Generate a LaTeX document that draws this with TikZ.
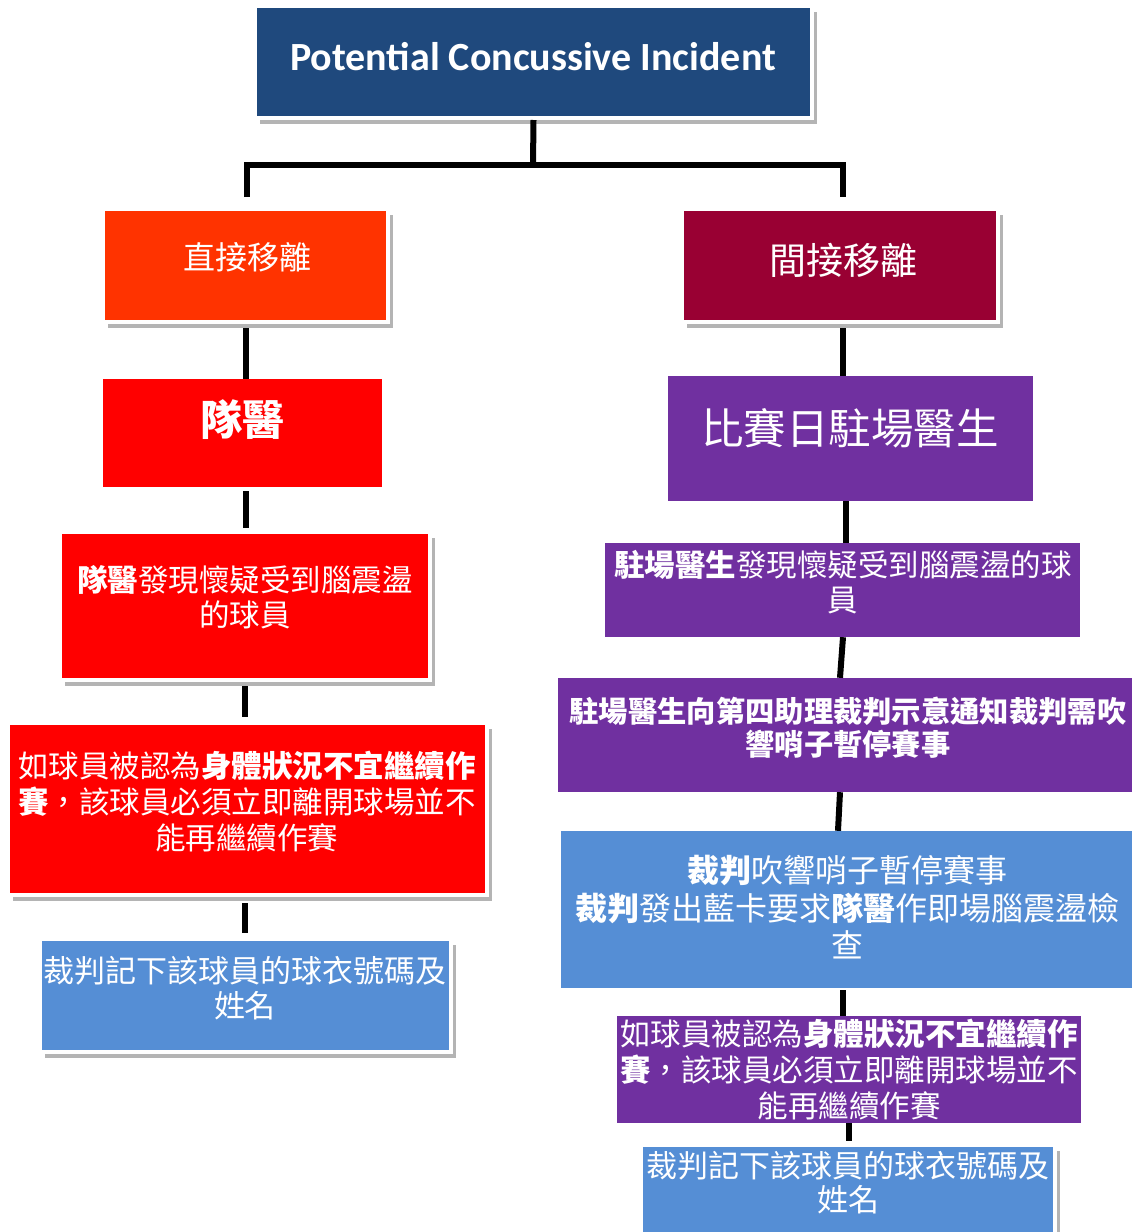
\documentclass[tikz,border=0pt]{standalone}
\usepackage{fontspec}
\newfontfamily\cjk{Noto Sans CJK TC}
\newfontfamily\titlefont{Carlito}
\usetikzlibrary{shadows}
\definecolor{navy}{HTML}{1F497D}
\definecolor{orangered}{HTML}{FF3300}
\definecolor{maroon}{HTML}{990033}
\definecolor{pured}{HTML}{FF0000}
\definecolor{purp}{HTML}{7030A0}
\definecolor{skyb}{HTML}{558ED5}
\tikzset{
  box/.style={rectangle, draw=none, inner sep=0pt},
  bbox/.style={rectangle, inner sep=0pt, draw=white, line width=4pt,
    drop shadow={shadow xshift=5pt, shadow yshift=-6pt, opacity=0.45, fill=black!65}},
  txt/.style={text=white, align=center, inner sep=0pt},
  conn/.style={draw=black, line width=6pt}
}
\begin{document}
\begin{tikzpicture}[x=1pt,y=-1pt]
\useasboundingbox (0,0) rectangle (1132,1232);
% boxes
\node[bbox, fill=navy, minimum width=557pt, minimum height=112pt] (b1) at (533.5,62) {};
\node[bbox, fill=orangered, minimum width=285pt, minimum height=113pt] (b2) at (245.5,265.5) {};
\node[bbox, fill=maroon, minimum width=316pt, minimum height=113pt] (b3) at (840,265.5) {};
\node[box, fill=pured, minimum width=279pt, minimum height=108pt] (b4) at (242.5,433) {};
\node[box, fill=purp, minimum width=365pt, minimum height=125pt] (b5) at (850.5,438.5) {};
\node[bbox, fill=pured, minimum width=370pt, minimum height=148pt] (b6) at (245,606) {};
\node[box, fill=purp, minimum width=475pt, minimum height=94pt] (b7) at (842.5,590) {};
\node[bbox, fill=pured, minimum width=479pt, minimum height=172pt] (b8) at (247.5,809) {};
\node[box, fill=purp, minimum width=574pt, minimum height=114pt] (b9) at (845,735) {};
\node[bbox, fill=skyb, minimum width=411pt, minimum height=113pt] (b10) at (245.5,995.5) {};
\node[box, fill=skyb, minimum width=571pt, minimum height=157pt] (b11) at (846.5,909.5) {};
\node[box, fill=purp, minimum width=464pt, minimum height=107pt] (b12) at (849,1069.5) {};
\node[bbox, fill=skyb, minimum width=414pt, minimum height=109pt] (b13) at (848,1199) {};
% texts
\node[txt, font=\titlefont\bfseries\fontsize{40}{44}\selectfont] (t1) at (533,57) {Potential Concussive Incident};
\node[txt, font=\cjk\fontsize{32}{38}\selectfont] (t2) at (247,257) {直接移離};
\node[txt, font=\cjk\fontsize{37}{44}\selectfont] (t3) at (843,260) {間接移離};
\node[txt, font=\cjk\fontsize{42}{50}\selectfont] (t4) at (242,420) {\textbf{隊醫}};
\node[txt, font=\cjk\fontsize{42.5}{50}\selectfont] (t5) at (850,428) {比賽日駐場醫生};
\node[txt, font=\cjk\fontsize{30.5}{35}\selectfont] (t6) at (245,597.5) {\textbf{隊醫}發現懷疑受到腦震盪\\的球員};
\node[txt, font=\cjk\fontsize{30.5}{35}\selectfont] (t7) at (843,582.5) {\textbf{駐場醫生}發現懷疑受到腦震盪的球\\員};
\node[txt, font=\cjk\fontsize{30.5}{36}\selectfont] (t8) at (247,802) {如球員被認為\textbf{身體狀況不宜繼續作}\\\textbf{賽}，該球員必須立即離開球場並不\\能再繼續作賽};
\node[txt, font=\cjk\bfseries\fontsize{29.3}{33}\selectfont] (t9) at (848,727.5) {駐場醫生向第四助理裁判示意通知裁判需吹\\響哨子暫停賽事};
\node[txt, font=\cjk\fontsize{31}{35}\selectfont] (t10) at (245,988.5) {裁判記下該球員的球衣號碼及\\姓名};
\node[txt, font=\cjk\fontsize{32}{37.5}\selectfont] (t11) at (847,907.5) {\textbf{裁判}吹響哨子暫停賽事\\\textbf{裁判}發出藍卡要求\textbf{隊醫}作即場腦震盪檢\\查};
\node[txt, font=\cjk\fontsize{30.5}{36}\selectfont] (t12) at (849,1070) {如球員被認為\textbf{身體狀況不宜繼續作}\\\textbf{賽}，該球員必須立即離開球場並不\\能再繼續作賽};
\node[txt, font=\cjk\fontsize{31}{34}\selectfont] (t13) at (848,1183) {裁判記下該球員的球衣號碼及\\姓名};
% connectors
\coordinate (jc) at (533,165);
\draw[conn] (b1.south) -- (jc);
\draw[conn, line join=miter, shorten <=10pt, shorten >=10pt]
  ([xshift=1.5pt]b2.north) |- (jc) -| ([xshift=3pt]b3.north);
\draw[conn, shorten <=4pt] (b2.south) -- (b2.south |- b4.north);
\draw[conn, shorten <=4pt, shorten >=2pt] (b4.south -| b2.south) -- (b2.south |- b6.north);
\draw[conn, shorten <=4pt, shorten >=4pt] (b6.south) -- (b6.south |- b8.north);
\draw[conn, shorten <=6pt, shorten >=4pt] (b8.south -| b6.south) -- (b6.south |- b10.north);
\draw[conn, shorten <=4pt] ([xshift=3pt]b3.south) -- ([xshift=3pt]b3.south |- b5.north);
\draw[conn] ([xshift=-4.5pt]b5.south) -- ([xshift=-4.5pt]b5.south |- b7.north);
\draw[conn] ([xshift=0.5pt]b7.south) -- ([xshift=-5pt]b9.north);
\draw[conn] ([xshift=-5pt]b9.south) -- ([xshift=-8.5pt]b11.north);
\draw[conn, shorten <=2pt] ([xshift=-3.5pt]b11.south) -- ([xshift=-3.5pt]b11.south |- b12.north);
\draw[conn, shorten >=2pt] (b12.south) -- (b12.south |- b13.north);
\end{tikzpicture}
\end{document}
